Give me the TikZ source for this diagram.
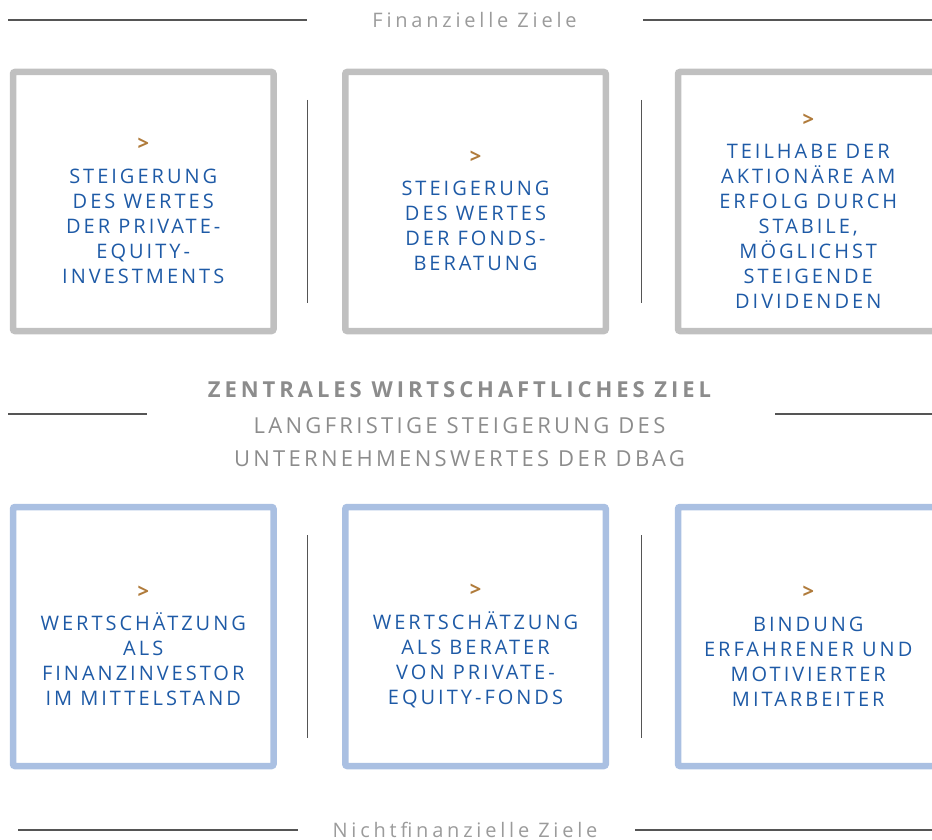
\documentclass[tikz,border=0pt]{standalone}
\usepackage{fontspec}
\usepackage{xcolor}
\usepackage{tikz}
\usetikzlibrary{calc}
\setmainfont{Open Sans}
\newfontfamily\boxfont[LetterSpace=15]{Open Sans}
\newfontfamily\headfont[LetterSpace=19]{Open Sans}
\newfontfamily\midfont[LetterSpace=15]{Open Sans}
\newfontfamily\midboldfont[LetterSpace=18]{Open Sans}
\definecolor{rulegray}{HTML}{555555}
\definecolor{boxgray}{HTML}{C0C0C0}
\definecolor{boxblue}{HTML}{AAC0E2}
\definecolor{textblue}{HTML}{1E5AA6}
\definecolor{markbrown}{HTML}{B07B3B}
\definecolor{headgray}{HTML}{9B9B9B}
\definecolor{midgray}{HTML}{8C8C8C}
\tikzset{goalbox/.style={draw,line width=6.5pt,rounded corners=2pt,minimum width=260.5pt,minimum height=259pt,inner sep=0pt},
  goaltext/.style={align=center,text=textblue,font=\boxfont\fontsize{20}{25}\selectfont,inner sep=0pt},
  headtext/.style={text=headgray,font=\headfont\fontsize{20}{24}\selectfont,inner sep=0pt,anchor=base},
  midtext/.style={text=midgray,font=\midfont\fontsize{22}{33}\selectfont,inner sep=0pt,anchor=base},
  rule/.style={draw=rulegray,line width=1.2pt},
  sepline/.style={draw=rulegray,line width=1pt}}
\newcommand{\goalmark}{\textcolor{markbrown}{\bfseries >}\\[7.5pt]}

\begin{document}
\begin{tikzpicture}[x=1pt,y=-1pt]
\useasboundingbox (0,0) rectangle (932,840);
\clip (0,0) rectangle (932,840);
% top heading
\node[headtext] (fin) at (474.5,28) {Finanzielle Ziele};
\draw[rule] (8,20) -- (307,20); \draw[rule] (643,20) -- (932,20);
% financial goals
\node[goalbox,draw=boxgray] (f1) at (143.25,201.5) {};
\node[goalbox,draw=boxgray] (f2) at (475.5,201.5) {};
\node[goalbox,draw=boxgray] (f3) at (808.25,201.5) {};
\draw[sepline] (307,100) -- (307,303); \draw[sepline] (641,100) -- (641,303);
\node[goaltext] (ft1) at ($(f1)+(0,9.5)$) {\goalmark STEIGERUNG\\DES WERTES\\DER PRIVATE-\\EQUITY-\\INVESTMENTS};
\node[goaltext] (ft2) at ($(f2)+(0,9.5)$) {\goalmark STEIGERUNG\\DES WERTES\\DER FONDS-\\BERATUNG};
\node[goaltext] (ft3) at ($(f3)+(0,9.5)$) {\goalmark TEILHABE DER\\AKTIONÄRE AM\\ERFOLG DURCH\\STABILE,\\MÖGLICHST\\STEIGENDE\\DIVIDENDEN};
% central goal
\node[midtext,font=\midboldfont\bfseries\fontsize{22}{33}\selectfont] (zentral) at (459.5,397) {ZENTRALES WIRTSCHAFTLICHES ZIEL};
\node[midtext] (lang) at (459.5,433) {LANGFRISTIGE STEIGERUNG DES};
\node[midtext] (unter) at (459.5,466) {UNTERNEHMENSWERTES DER DBAG};
\draw[rule] (8,414) -- (147,414); \draw[rule] (775,414) -- (932,414);
% non-financial goals
\node[goalbox,draw=boxblue] (n1) at (143.25,636.5) {};
\node[goalbox,draw=boxblue] (n2) at (475.5,636.5) {};
\node[goalbox,draw=boxblue] (n3) at (808.25,636.5) {};
\draw[sepline] (307,535) -- (307,738); \draw[sepline] (641,535) -- (641,738);
\node[goaltext] (nt1) at ($(n1)+(0,9.5)$) {\goalmark WERTSCHÄTZUNG\\ALS\\FINANZINVESTOR\\IM MITTELSTAND};
\node[goaltext] (nt2) at ($(n2)+(0,9.5)$) {\goalmark WERTSCHÄTZUNG\\ALS BERATER\\VON PRIVATE-\\EQUITY-FONDS};
\node[goaltext] (nt3) at ($(n3)+(0,9.5)$) {\goalmark BINDUNG\\ERFAHRENER UND\\MOTIVIERTER\\MITARBEITER};
% bottom heading
\node[headtext] (nonfin) at (465,837) {Nichtfinanzielle Ziele};
\draw[rule] (18,830) -- (298,830); \draw[rule] (635,830) -- (932,830);
\end{tikzpicture}
\end{document}
